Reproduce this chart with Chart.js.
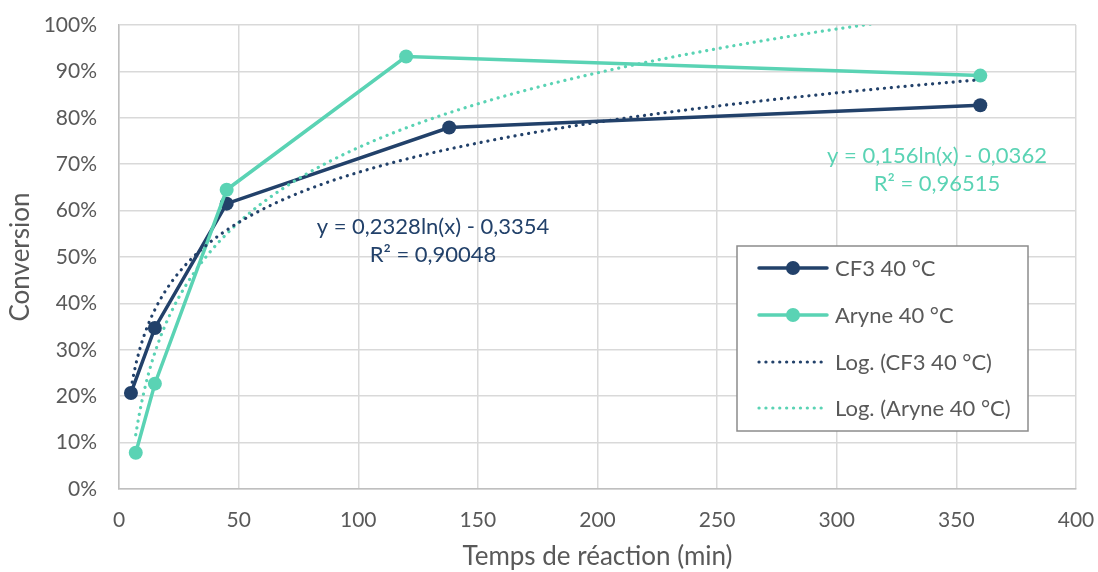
<!DOCTYPE html>
<html><head><meta charset="utf-8">
<script src="https://cdn.jsdelivr.net/npm/chart.js@4.4.1/dist/chart.umd.min.js"></script>
<style>html,body{margin:0;padding:0;background:#fff}#wrap{width:1098px;height:572px;position:relative}</style>
</head><body><div id="wrap"><canvas id="c" width="1098" height="572"></canvas></div>
<script>
// ---- data ----
const cf3Time = [5, 15, 45, 138, 360];
const cf3Conv = [0.207, 0.347, 0.615, 0.779, 0.827];
const aryneTime = [7, 15, 45, 120, 360];
const aryneConv = [0.078, 0.227, 0.645, 0.932, 0.891];
const seriesNames = ['CF3 40 °C', 'Aryne 40 °C', 'Log. (CF3 40 °C)', 'Log. (Aryne 40 °C)'];
const eqAryne = ['y = 0,2328ln(x) - 0,3354', 'R² = 0,90048'];
const eqCf3 = ['y = 0,156ln(x) - 0,0362', 'R² = 0,96515'];
const xTickValues = [0, 50, 100, 150, 200, 250, 300, 350, 400];
const yTickValues = [0, 0.1, 0.2, 0.3, 0.4, 0.5, 0.6, 0.7, 0.8, 0.9, 1.0];
const xTitle = 'Temps de réaction (min)';
const yTitle = 'Conversion';

const NAVY = '#22416a', TEAL = '#5ad3b4', TXT = '#595959', GRID = '#d9d9d9';
const FONT = 'Lato';

// least-squares logarithmic trendline (as Excel does), fitted on the data
function logFit(xs, ys) {
  const lx = xs.map(Math.log), n = xs.length;
  const mx = lx.reduce((a, b) => a + b, 0) / n, my = ys.reduce((a, b) => a + b, 0) / n;
  let sxy = 0, sxx = 0;
  for (let i = 0; i < n; i++) { sxy += (lx[i] - mx) * (ys[i] - my); sxx += (lx[i] - mx) ** 2; }
  const a = sxy / sxx, b = my - a * mx;
  return { a, b };
}
function trendPoints(xs, ys) {
  const f = logFit(xs, ys), pts = [];
  const x0 = Math.min(...xs), x1 = Math.max(...xs), N = 300;
  for (let i = 0; i <= N; i++) {
    const x = x0 + (x1 - x0) * i / N;
    pts.push({ x, y: f.a * Math.log(x) + f.b });
  }
  return pts;
}
const zip = (xs, ys) => xs.map((x, i) => ({ x, y: ys[i] }));

const dotted = { borderWidth: 3.2, borderDash: [0.1, 6.8], borderCapStyle: 'round', pointRadius: 0, showLine: true, fill: false, tension: 0 };

const overlay = {
  id: 'overlay',
  afterDraw(chart) {
    const ctx = chart.ctx;
    ctx.save();
    // equation labels
    ctx.font = `22px ${FONT}`;
    ctx.textAlign = 'center'; ctx.textBaseline = 'middle';
    ctx.fillStyle = NAVY;
    ctx.fillText(eqAryne[0], 433, 227);
    ctx.fillText(eqAryne[1], 433, 255);
    ctx.fillStyle = TEAL;
    ctx.fillText(eqCf3[0], 937, 156);
    ctx.fillText(eqCf3[1], 937, 184);
    // legend box
    const bx = 737, by = 246, bw = 291, bh = 185;
    ctx.fillStyle = '#fff'; ctx.fillRect(bx, by, bw, bh);
    ctx.strokeStyle = '#8c8c8c'; ctx.lineWidth = 1.5; ctx.strokeRect(bx, by, bw, bh);
    const rows = [268, 315, 362, 408];
    const styles = [
      { c: NAVY, dash: [], marker: true },
      { c: TEAL, dash: [], marker: true },
      { c: NAVY, dash: [0.1, 6.8], marker: false },
      { c: TEAL, dash: [0.1, 6.8], marker: false }
    ];
    rows.forEach((y, i) => {
      const s = styles[i];
      ctx.beginPath();
      ctx.strokeStyle = s.c; ctx.lineWidth = s.marker ? 3.5 : 3.2;
      ctx.lineCap = 'round'; ctx.setLineDash(s.dash);
      ctx.moveTo(759, y); ctx.lineTo(827, y); ctx.stroke();
      ctx.setLineDash([]);
      if (s.marker) { ctx.beginPath(); ctx.fillStyle = s.c; ctx.arc(793, y, 7, 0, Math.PI * 2); ctx.fill(); }
      ctx.fillStyle = TXT; ctx.textAlign = 'left'; ctx.textBaseline = 'middle';
      ctx.font = `22px ${FONT}`;
      ctx.fillText(seriesNames[i], 835, y + 1);
    });
    ctx.restore();
  }
};

new Chart(document.getElementById('c'), {
  type: 'scatter',
  data: {
    datasets: [
      Object.assign({ label: seriesNames[2], data: trendPoints(cf3Time, cf3Conv), borderColor: NAVY, order: 1 }, dotted),
      Object.assign({ label: seriesNames[3], data: trendPoints(aryneTime, aryneConv), borderColor: TEAL, order: 2 }, dotted),
      { label: seriesNames[0], data: zip(cf3Time, cf3Conv), showLine: true, borderColor: NAVY, backgroundColor: NAVY, borderWidth: 3.5, pointRadius: 7, pointBorderWidth: 0, pointHoverRadius: 7, order: 4 },
      { label: seriesNames[1], data: zip(aryneTime, aryneConv), showLine: true, borderColor: TEAL, backgroundColor: TEAL, borderWidth: 3.5, pointRadius: 7, pointBorderWidth: 0, pointHoverRadius: 7, order: 3 }
    ]
  },
  options: {
    responsive: false, animation: false, devicePixelRatio: 1,
    layout: { autoPadding: false, padding: 0 },
    plugins: { legend: { display: false }, tooltip: { enabled: false } },
    scales: {
      x: {
        type: 'linear', min: 0, max: 400,
        afterBuildTicks: s => { s.ticks = xTickValues.map(v => ({ value: v })); },
        afterFit: s => { s.height = 83; s.paddingLeft = 0; s.paddingRight = 22; s.paddingTop = 0; s.paddingBottom = 0; },
        grid: { color: GRID, lineWidth: 1.5, drawTicks: false },
        border: { color: '#bfbfbf', width: 1.5 },
        ticks: { color: TXT, font: { family: FONT, size: 21 }, padding: 19, maxRotation: 0 },
        title: { display: true, text: xTitle, color: TXT, font: { family: FONT, size: 26 }, padding: { bottom: 0, top: 0 } }
      },
      y: {
        min: 0, max: 1,
        afterBuildTicks: s => { s.ticks = yTickValues.map(v => ({ value: v })); },
        afterFit: s => { s.width = 119; s.paddingTop = 25; s.paddingBottom = 0; s.paddingLeft = 0; s.paddingRight = 0; },
        grid: { color: GRID, lineWidth: 1.5, drawTicks: false },
        border: { color: '#bfbfbf', width: 1.5 },
        ticks: { color: TXT, font: { family: FONT, size: 21 }, padding: 22, callback: v => Math.round(v * 100) + '%' },
        title: { display: true, text: yTitle, color: TXT, font: { family: FONT, size: 26 }, padding: { top: 5, bottom: 0 } }
      }
    }
  },
  plugins: [overlay]
});
</script></body></html>
